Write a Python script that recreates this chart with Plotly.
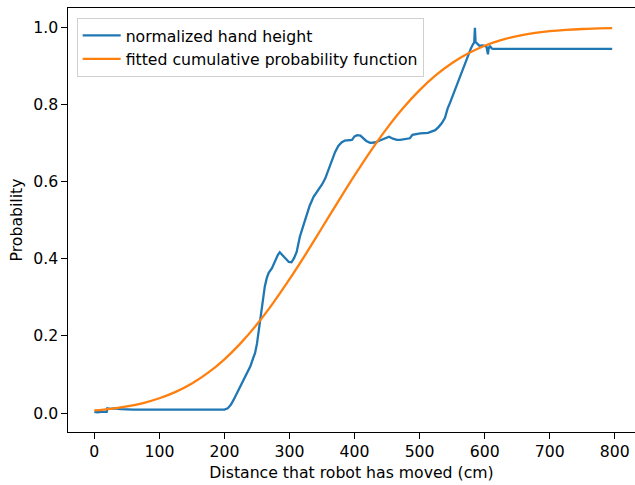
import plotly.graph_objects as go

# Measured hand height (normalized) versus distance travelled by the robot
hand_distance_cm = [
    0, 5, 10, 15, 19, 20, 25, 30, 40, 60, 80, 100, 130, 160, 190, 200, 205, 210,
    214, 220, 224, 228, 232, 236, 240, 244, 247, 250, 252, 254, 256, 259, 262,
    265, 268, 273, 278, 282, 285, 289, 294, 299, 303, 307, 311, 316, 321, 326,
    331, 337, 341, 345, 350, 355, 360, 365, 370, 375, 380, 385, 390, 396, 400,
    404, 409, 413, 418, 424, 431, 437, 442, 448, 453, 459, 465, 470, 475, 485,
    489, 495, 501, 513, 518, 524, 529, 534, 539, 543, 547, 551, 555, 559, 563,
    567, 571, 575, 579, 582, 584, 585, 586, 589, 592, 596, 600, 603, 605, 606,
    608, 611, 613, 700, 796,
]
hand_height = [
    0.003, 0.002, 0.003, 0.002, 0.003, 0.012, 0.011, 0.012, 0.010, 0.009, 0.009,
    0.008, 0.008, 0.008, 0.008, 0.009, 0.012, 0.022, 0.034, 0.055, 0.068, 0.082,
    0.094, 0.108, 0.122, 0.142, 0.155, 0.180, 0.207, 0.230, 0.250, 0.293, 0.328,
    0.350, 0.364, 0.376, 0.397, 0.410, 0.417, 0.410, 0.400, 0.392, 0.391, 0.402,
    0.418, 0.458, 0.485, 0.510, 0.538, 0.561, 0.571, 0.579, 0.593, 0.609, 0.632,
    0.657, 0.677, 0.693, 0.702, 0.707, 0.708, 0.709, 0.718, 0.721, 0.720, 0.714,
    0.706, 0.701, 0.702, 0.706, 0.709, 0.714, 0.717, 0.712, 0.709, 0.709, 0.710,
    0.713, 0.722, 0.725, 0.726, 0.727, 0.730, 0.734, 0.742, 0.752, 0.766, 0.790,
    0.806, 0.824, 0.842, 0.860, 0.877, 0.895, 0.913, 0.931, 0.947, 0.957, 0.962,
    1.000, 0.963, 0.958, 0.953, 0.954, 0.953, 0.950, 0.931, 0.945, 0.953, 0.946,
    0.945, 0.945, 0.945,
]

# Fitted cumulative probability curve
cdf_distance_cm = [
    0, 25, 50, 75, 100, 125, 150, 175, 200, 225, 250, 275, 300, 325, 350, 375,
    400, 425, 450, 475, 500, 525, 550, 575, 600, 625, 650, 675, 700, 725, 750,
    775, 796,
]
cdf_probability = [
    0.0069, 0.0110, 0.0171, 0.0259, 0.0382, 0.0548, 0.0767, 0.1047, 0.1394,
    0.1814, 0.2303, 0.2858, 0.3472, 0.4126, 0.4808, 0.5494, 0.6166, 0.6805,
    0.7393, 0.7921, 0.8380, 0.8768, 0.9084, 0.9336, 0.9531, 0.9677, 0.9784,
    0.9858, 0.9910, 0.9944, 0.9966, 0.9980, 0.9988,
]

x_ticks = [0, 100, 200, 300, 400, 500, 600, 700, 800]
y_ticks = [0.0, 0.2, 0.4, 0.6, 0.8, 1.0]

FONT = "DejaVu Sans"
FS = 15.7

fig = go.Figure()
fig.add_trace(go.Scatter(
    x=hand_distance_cm, y=hand_height, mode="lines",
    name="normalized hand height",
    line=dict(color="#1f77b4", width=2.3),
))
fig.add_trace(go.Scatter(
    x=cdf_distance_cm, y=cdf_probability, mode="lines",
    name="fitted cumulative probability function",
    line=dict(color="#ff7f0e", width=2.3, shape="spline"),
))

axis_common = dict(
    showgrid=False, zeroline=False, showline=True, linecolor="black",
    linewidth=1.2, ticks="outside", ticklen=5.5, tickwidth=1.2,
    tickcolor="black",
    tickfont=dict(family=FONT, size=FS, color="black"),
)

fig.update_layout(
    width=635, height=485,
    margin=dict(l=68, r=0, t=8, b=53),
    paper_bgcolor="white", plot_bgcolor="white",
    font=dict(family=FONT, size=FS, color="black"),
    xaxis=dict(
        range=[-40.5, 831.1], tickvals=x_ticks,
        ticktext=[str(v) for v in x_ticks], mirror=True,
        title=dict(text="Distance that robot has moved (cm)",
                   font=dict(family=FONT, size=FS, color="black"),
                   standoff=6),
        **axis_common,
    ),
    yaxis=dict(
        range=[-0.0493, 1.0511], tickvals=y_ticks,
        ticktext=[f"{v:.1f}" for v in y_ticks],
        title=dict(text="Probability",
                   font=dict(family=FONT, size=FS, color="black"),
                   standoff=6),
        **axis_common,
    ),
    legend=dict(
        x=0.0153, y=0.977, xanchor="left", yanchor="top",
        bgcolor="rgba(255,255,255,0.8)", bordercolor="#d0d0d0", borderwidth=1,
        font=dict(family=FONT, size=FS, color="black"),
        tracegroupgap=0, itemwidth=38,
    ),
    showlegend=True,
)

fig.write_html("out.html")
